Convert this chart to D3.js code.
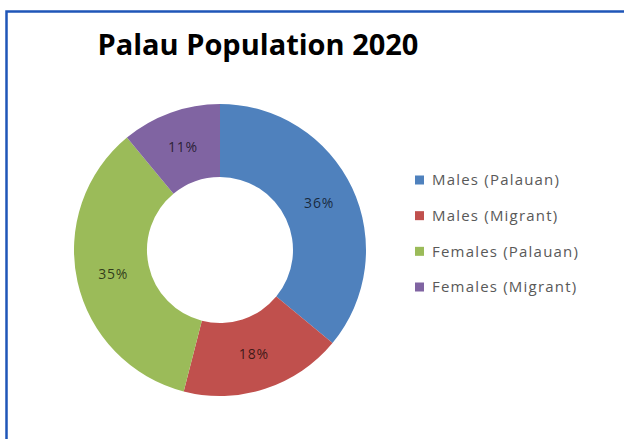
<!DOCTYPE html>
<meta charset="utf-8">
<html>
<head>
    <title>Palau Population 2020</title>
    <style>
        body { margin: 0; background: #fff; }
        text { font-family: "Open Sans", sans-serif; }
    </style>
    <script src="https://d3js.org/d3.v7.min.js"></script>
</head>
<body>
    <div id="chart"></div>
    <script>
        // data
        var categories = ["Males (Palauan)", "Males (Migrant)", "Females (Palauan)", "Females (Migrant)"];
        var shares = [36, 18, 35, 11];
        var colors = ["#4f81bd", "#c0504d", "#9bbb59", "#8064a2"];

        var width = 624, height = 439;

        var svg = d3.select("#chart").append("svg")
            .attr("width", width)
            .attr("height", height);

        // blue frame (runs off the right / bottom edge)
        svg.append("rect")
            .attr("x", 6.5)
            .attr("y", 11.5)
            .attr("width", 700)
            .attr("height", 600)
            .attr("fill", "none")
            .attr("stroke", "#1f56b8")
            .attr("stroke-width", 2.5);

        // title
        svg.append("text")
            .attr("x", 258)
            .attr("y", 55)
            .attr("text-anchor", "middle")
            .attr("font-weight", "bold")
            .attr("font-size", 29)
            .attr("fill", "#000")
            .text("Palau Population 2020");

        // donut
        var data = categories.map(function (c, i) { return { name: c, value: shares[i], color: colors[i] }; });

        var pie = d3.pie()
            .value(function (d) { return d.value; })
            .sort(null);

        var arc = d3.arc()
            .innerRadius(73)
            .outerRadius(146);

        var g = svg.append("g")
            .attr("transform", "translate(220,250)");

        var arcs = pie(data);

        g.selectAll("path")
            .data(arcs)
            .enter().append("path")
            .attr("d", arc)
            .attr("fill", function (d) { return d.data.color; });

        g.selectAll("text")
            .data(arcs)
            .enter().append("text")
            .attr("transform", function (d) { return "translate(" + arc.centroid(d) + ")"; })
            .attr("dy", "0.35em")
            .attr("text-anchor", "middle")
            .attr("font-size", 14)
            .attr("letter-spacing", 0.8)
            .attr("fill", "#000")
            .attr("fill-opacity", 0.7)
            .text(function (d) { return d.data.value + "%"; });

        // legend
        var legendY = d3.scalePoint()
            .domain(categories)
            .range([180, 287]);

        var legend = svg.append("g");

        var item = legend.selectAll("g")
            .data(data)
            .enter().append("g")
            .attr("transform", function (d) { return "translate(415," + legendY(d.name) + ")"; });

        item.append("rect")
            .attr("x", 0)
            .attr("y", -4.5)
            .attr("width", 9)
            .attr("height", 9)
            .attr("fill", function (d) { return d.color; });

        item.append("text")
            .attr("x", 17)
            .attr("dy", "0.35em")
            .attr("font-size", 15)
            .attr("letter-spacing", 1.2)
            .attr("fill", "#595959")
            .text(function (d) { return d.name; });
    </script>
</body>
</html>
